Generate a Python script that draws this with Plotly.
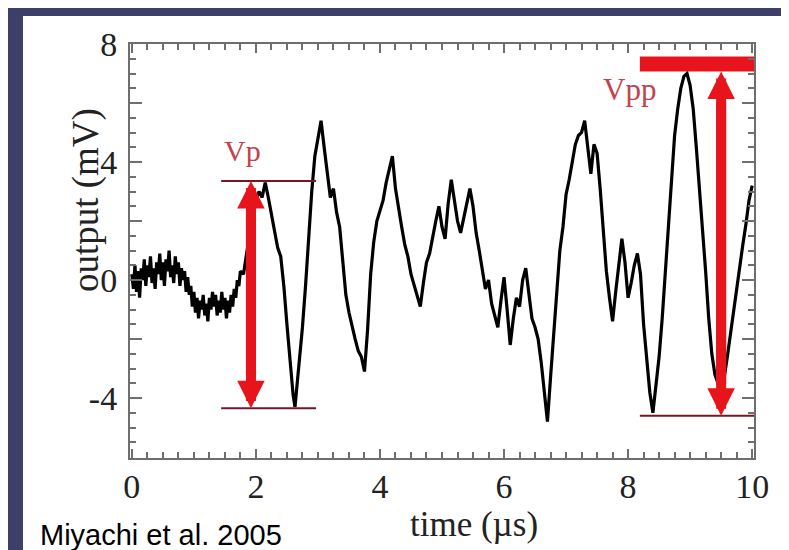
import plotly.graph_objects as go

# ---- data ----
time_us = [0.000, 0.025, 0.050, 0.075, 0.100, 0.125, 0.150, 0.175, 0.200, 0.225,
           0.250, 0.275, 0.300, 0.325, 0.350, 0.375, 0.400, 0.425, 0.450, 0.475,
           0.500, 0.525, 0.550, 0.575, 0.600, 0.625, 0.650, 0.675, 0.700, 0.725,
           0.750, 0.775, 0.800, 0.825, 0.850, 0.875, 0.900, 0.925, 0.950, 0.975,
           1.000, 1.025, 1.050, 1.075, 1.100, 1.125, 1.150, 1.175, 1.200, 1.225,
           1.250, 1.275, 1.300, 1.325, 1.350, 1.375, 1.400, 1.425, 1.450, 1.475,
           1.500, 1.525, 1.550, 1.575, 1.600, 1.625, 1.650, 1.675, 1.700, 1.725,
           1.750,
           1.80, 1.85, 1.90, 1.95,
           2.00, 2.05, 2.10, 2.15, 2.20, 2.25, 2.30, 2.35, 2.40, 2.45,
           2.50, 2.55, 2.60, 2.63, 2.66, 2.70, 2.75, 2.80, 2.85, 2.90,
           2.95, 3.00, 3.05, 3.10, 3.15, 3.20, 3.25, 3.30, 3.35, 3.40,
           3.45, 3.50, 3.55, 3.60, 3.65, 3.70, 3.75, 3.80, 3.85, 3.90,
           3.95, 4.00, 4.05, 4.10, 4.15, 4.20, 4.25, 4.30, 4.35, 4.40,
           4.45, 4.50, 4.55, 4.60, 4.65, 4.70, 4.75, 4.80, 4.85, 4.90,
           4.95, 5.00, 5.05, 5.10, 5.15, 5.20, 5.25, 5.30, 5.35, 5.40,
           5.45, 5.50, 5.55, 5.60, 5.65, 5.70, 5.75, 5.80, 5.85, 5.90,
           5.95, 6.00, 6.05, 6.10, 6.15, 6.20, 6.25, 6.30, 6.35, 6.40,
           6.45, 6.50, 6.55, 6.60, 6.65, 6.70, 6.75, 6.80, 6.85, 6.90,
           6.95, 7.00, 7.05, 7.10, 7.15, 7.20, 7.25, 7.30, 7.35, 7.40,
           7.45, 7.50, 7.55, 7.60, 7.65, 7.70, 7.75, 7.80, 7.85, 7.90,
           7.95, 8.00, 8.05, 8.10, 8.15, 8.20, 8.25, 8.30, 8.35, 8.40,
           8.45, 8.50, 8.55, 8.60, 8.65, 8.70, 8.75, 8.80, 8.85, 8.90,
           8.95, 9.00, 9.05, 9.10, 9.15, 9.20, 9.25, 9.30, 9.35, 9.40,
           9.45, 9.50, 9.55, 9.60, 9.65, 9.70, 9.75, 9.80, 9.85, 9.90,
           9.95, 10.00]
output_mV = [0.2, -0.3, 0.5, -0.4, 0.3, -0.6, 0.4, 0.0, 0.7, -0.2,
             0.5, 0.1, 0.8, -0.1, 0.4, -0.3, 0.6, 0.2, 0.9, 0.0,
             0.6, -0.2, 0.7, 0.3, 1.0, 0.1, 0.5, -0.1, 0.8, 0.2,
             0.6, -0.2, 0.4, 0.0, 0.3, -0.4, 0.1, -0.5, -0.2, -0.9,
             -0.4, -1.1, -0.6, -1.3, -0.7, -1.0, -0.5, -1.2, -0.8, -1.4,
             -0.6, -1.0, -0.4, -0.9, -0.5, -1.2, -0.7, -1.1, -0.4, -1.0,
             -0.6, -1.3, -0.7, -1.1, -0.5, -0.9, -0.3, -0.6, 0.0, -0.2,
             0.3,
             0.2, 0.9, 1.6, 2.2,
             2.7, 3.0, 2.8, 3.3, 2.8, 2.2, 1.7, 1.1, 0.8, -0.2,
             -1.5, -2.8, -3.9, -4.3, -3.6, -2.9, -1.6, -0.2, 1.5, 3.0,
             4.2, 4.8, 5.4, 4.5, 3.6, 2.8, 3.1, 2.3, 1.8, 0.6,
             -0.5, -1.1, -1.6, -2.0, -2.4, -2.6, -3.1, -1.7, 0.2, 1.3,
             2.0, 2.4, 2.7, 3.3, 3.8, 4.2, 3.1, 2.4, 1.8, 1.2,
             0.8, 0.2, -0.2, -0.6, -0.9, -0.1, 0.6, 0.9, 1.5, 2.0,
             2.5, 1.8, 1.4, 2.6, 3.4, 2.6, 2.0, 1.6, 2.1, 2.6,
             3.1, 2.5, 1.6, 1.0, 0.3, -0.3, 0.0, -0.8, -1.2, -1.6,
             -0.7, 0.1, -1.0, -2.2, -1.3, -0.6, -0.9, 0.0, 0.4, -0.5,
             -1.3, -1.6, -2.0, -2.8, -3.7, -4.8, -3.3, -1.9, -0.2, 1.0,
             1.8, 2.9, 3.4, 4.0, 4.6, 4.9, 5.0, 5.4, 4.4, 3.6,
             4.6, 4.3, 3.1, 1.6, 0.3, -0.6, -1.4, -0.4, 0.5, 1.4,
             0.6, -0.6, -0.1, 0.5, 0.9, 0.2, -1.5, -2.6, -3.8, -4.5,
             -3.6, -2.6, -1.3, 0.3, 1.6, 3.2, 4.9, 5.8, 6.5, 6.9,
             7.0, 6.6, 5.8, 4.5, 3.2, 1.8, 0.3, -1.3, -2.5, -3.2,
             -3.5, -3.7, -3.3, -2.6, -1.8, -1.0, -0.2, 0.4, 1.2, 1.9,
             2.7, 3.2]
assert len(time_us) == len(output_mV)

# annotation levels (mV) and spans (us)
vp_levels = [3.36, -4.34]
vp_span = [1.44, 2.97]
vp_arrow_t = 1.92
vpp_top = 7.32
vpp_bottom = -4.6
vpp_span = [8.19, 10.03]
vpp_arrow_t = 9.5

x_ticks = [0, 2, 4, 6, 8, 10]
y_ticks = [-4, -2, 0, 2, 4, 6, 8]
y_ticktext = ["-4", "", "0", "", "4", "", "8"]

# ---- styles ----
RED = "#e8141c"
DARKRED = "#7a1424"
LABELRED = "#c4424e"
AXIS = "#6e6e6e"
SERIF = "Liberation Serif, Times New Roman, serif"

fig = go.Figure()

fig.add_trace(go.Scatter(x=time_us, y=output_mV, mode="lines",
                         line=dict(color="black", width=3.2), hoverinfo="skip"))

for lv in vp_levels:
    fig.add_trace(go.Scatter(x=vp_span, y=[lv, lv], mode="lines",
                             line=dict(color=DARKRED, width=2), hoverinfo="skip"))
fig.add_trace(go.Scatter(x=vpp_span, y=[vpp_bottom, vpp_bottom], mode="lines",
                         line=dict(color=DARKRED, width=2), hoverinfo="skip"))
fig.add_trace(go.Scatter(x=vpp_span, y=[vpp_top, vpp_top], mode="lines",
                         line=dict(color=RED, width=15), hoverinfo="skip"))

annotations = []


def double_arrow(t, top, bottom):
    # two overlapping arrows, one pointing to each end
    annotations.append(dict(x=t, y=top, ax=t, ay=bottom + 1.0, xref="x", yref="y",
                            axref="x", ayref="y", text="", showarrow=True,
                            arrowhead=2, arrowsize=0.55, arrowwidth=10,
                            arrowcolor=RED))
    annotations.append(dict(x=t, y=bottom, ax=t, ay=top - 1.0, xref="x", yref="y",
                            axref="x", ayref="y", text="", showarrow=True,
                            arrowhead=2, arrowsize=0.55, arrowwidth=10,
                            arrowcolor=RED))


double_arrow(vp_arrow_t, vp_levels[0], vp_levels[1])
double_arrow(vpp_arrow_t, vpp_top - 0.25, vpp_bottom)

annotations += [
    dict(x=1.79, y=4.4, xref="x", yref="y", text="Vp", showarrow=False,
         font=dict(family=SERIF, size=30, color=LABELRED)),
    dict(x=8.03, y=6.45, xref="x", yref="y", text="Vpp", showarrow=False,
         font=dict(family=SERIF, size=31, color=LABELRED)),
    dict(x=0.551, y=-0.160, xref="paper", yref="paper", text="time (µs)",
         xanchor="center", yanchor="middle", showarrow=False,
         font=dict(family=SERIF, size=35, color="#222222")),
    dict(x=-0.0705, y=0.623, xref="paper", yref="paper", text="output (mV)",
         xanchor="center", yanchor="middle", textangle=-90, showarrow=False,
         font=dict(family=SERIF, size=37, color="#222222")),
    dict(x=-0.1474, y=-0.186, xref="paper", yref="paper", xanchor="left",
         yanchor="middle", text="Miyachi et al. 2005", showarrow=False,
         font=dict(family="Liberation Sans, Arial, sans-serif", size=29,
                   color="black")),
]

fig.update_layout(
    width=789, height=550,
    margin=dict(l=122, r=43, t=36, b=100),
    paper_bgcolor="#3d3f68",
    plot_bgcolor="white",
    showlegend=False,
    annotations=annotations,
    shapes=[dict(type="rect", xref="paper", yref="paper",
                 x0=-0.1715, x1=1.08, y0=-0.25, y1=1.0676,
                 fillcolor="white", line=dict(width=0), layer="below")],
)

fig.update_xaxes(range=[-0.03, 10.03], tickvals=x_ticks, ticks="inside",
                 ticklen=9, tickwidth=2, tickcolor=AXIS, showgrid=False,
                 zeroline=False, showline=True, linecolor=AXIS, linewidth=2,
                 mirror="ticks", ticklabelstandoff=-3,
                 tickfont=dict(family=SERIF, size=34, color="#222222"),
                 minor=dict(dtick=0.25, ticks="inside", ticklen=6,
                            tickwidth=2, tickcolor=AXIS, showgrid=False))
fig.update_yaxes(range=[-6.03, 8.0], tickvals=y_ticks, ticktext=y_ticktext,
                 ticks="inside", ticklen=12, tickwidth=2, tickcolor=AXIS,
                 showgrid=False, zeroline=False, showline=True,
                 linecolor=AXIS, linewidth=2, mirror="ticks",
                 ticklabelstandoff=4,
                 tickfont=dict(family=SERIF, size=34, color="#222222"),
                 minor=dict(dtick=0.5, ticks="inside", ticklen=6,
                            tickwidth=2, tickcolor=AXIS, showgrid=False))

fig.write_html("out.html")
